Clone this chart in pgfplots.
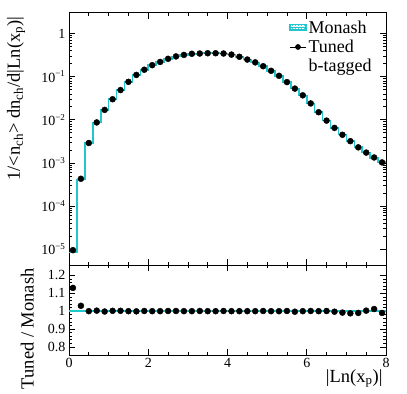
\documentclass[border=0pt]{standalone}
\usepackage{fontspec}
\setmainfont{Liberation Serif}
\usepackage{pgfplots}
\pgfplotsset{compat=1.18}
\usepackage{pgfplotstable}
\usetikzlibrary{patterns}
\definecolor{monash}{RGB}{32,200,205}

% Tuned (b-tagged): bin centre, value
\pgfplotstableread{
x y
0.1 9.5e-6
0.3 4.3e-4
0.5 2.9e-3
0.7 8.7e-3
0.9 1.7e-2
1.1 3.0e-2
1.3 4.9e-2
1.5 7.6e-2
1.7 0.110
1.9 0.145
2.1 0.185
2.3 0.220
2.5 0.260
2.7 0.295
2.9 0.320
3.1 0.340
3.3 0.345
3.5 0.350
3.7 0.350
3.9 0.345
4.1 0.325
4.3 0.290
4.5 0.250
4.7 0.215
4.9 0.175
5.1 0.137
5.3 0.105
5.5 0.075
5.7 0.053
5.9 0.037
6.1 0.024
6.3 0.015
6.5 0.0096
6.7 0.0065
6.9 0.0045
7.1 0.0032
7.3 0.0023
7.5 0.00174
7.7 0.00134
7.9 0.00103
}\tuned

% Monash: bin low edge, value (last row closes the step)
\pgfplotstableread{
x y
0.0 8.4e-6
0.2 4.17e-4
0.4 2.9e-3
0.6 8.7e-3
0.8 1.7e-2
1.0 3.0e-2
1.2 4.9e-2
1.4 7.6e-2
1.6 0.110
1.8 0.145
2.0 0.185
2.2 0.220
2.4 0.260
2.6 0.295
2.8 0.320
3.0 0.340
3.2 0.345
3.4 0.350
3.6 0.350
3.8 0.345
4.0 0.325
4.2 0.290
4.4 0.250
4.6 0.215
4.8 0.175
5.0 0.137
5.2 0.105
5.4 0.075
5.6 0.0532
5.8 0.037
6.0 0.024
6.2 0.015
6.4 0.0096
6.6 0.0065
6.8 0.00454
7.0 0.00324
7.2 0.00232
7.4 0.00173
7.6 0.00132
7.8 0.00104
8.0 0.00104
}\monash

% Ratio Tuned / Monash
\pgfplotstableread{
x r
0.1 1.130
0.3 1.030
0.5 1.000
0.7 1.003
0.9 0.998
1.1 1.002
1.3 1.002
1.5 1.000
1.7 0.999
1.9 1.001
2.1 1.000
2.3 1.000
2.5 1.001
2.7 1.001
2.9 1.000
3.1 1.000
3.3 1.001
3.5 1.000
3.7 1.000
3.9 1.001
4.1 1.000
4.3 1.000
4.5 1.000
4.7 1.000
4.9 1.001
5.1 1.000
5.3 1.000
5.5 1.001
5.7 0.997
5.9 1.000
6.1 1.001
6.3 1.000
6.5 1.001
6.7 0.997
6.9 0.992
7.1 0.988
7.3 0.990
7.5 1.003
7.7 1.012
7.9 0.990
}\ratio

\newcommand{\ex}[1]{\textsuperscript{\fontsize{9}{9}\selectfont #1}}

\pgfplotsset{
    rootax/.style={
            scale only axis,
            width=317pt,
            xmin=0, xmax=8,
            xtick={0,2,4,6,8},
            minor x tick num=3,
            tick align=inside,
            tick pos=both,
            major tick length=6pt,
            minor tick length=3pt,
            axis line style={line width=1pt},
            every tick/.style={black, line width=0.7pt},
            tick label style={font=\fontsize{14}{16}\selectfont},
            label style={font=\fontsize{18.5}{21}\selectfont},
            /pgf/number format/assume math mode=true,
        },
}

\begin{document}
\begin{tikzpicture}
    \begin{axis}[
            rootax,
            name=top,
            height=252pt,
            ymode=log,
            ymin=4.3e-6, ymax=3,
            xticklabels={},
            ytick={1e-5,1e-4,1e-3,1e-2,1e-1,1},
            yticklabels={10\ex{−5},10\ex{−4},10\ex{−3},10\ex{−2},10\ex{−1},1},
            ylabel={1/<n\textsubscript{ch}> dn\textsubscript{ch}/d|Ln(x\textsubscript{p})|},
            ylabel style={at={(rel axis cs:-0.127,1)}, anchor=south east},
            legend style={at={(rel axis cs:0.685,0.985)}, anchor=north west,
                    draw=none, fill=none, font=\fontsize{18}{19}\selectfont,
                    row sep=1pt},
            legend cell align=left,
        ]
        \addplot[const plot mark left, monash, line width=1.6pt,
            legend image code/.code={
                    \fill[pattern=crosshatch dots, pattern color=monash] (0cm,-0.2em) rectangle (0.55cm,0.35em);
                    \draw[monash, line width=1.4pt] (0cm,0.07em) -- (0.55cm,0.07em);
                }] table[x=x, y=y] {\monash};
        \addlegendentry{Monash}
        \addplot[only marks, mark=*, mark size=3pt, black,
            legend image code/.code={
                    \draw[black, line width=0.8pt] (0cm,0cm) -- (0.55cm,0cm);
                    \fill[black] (0.275cm,0cm) circle (2.6pt);
                }] table[x=x, y=y] {\tuned};
        \addlegendentry{Tuned}
        \addlegendimage{empty legend}
        \addlegendentry{b-tagged}
    \end{axis}

    \begin{axis}[
            rootax,
            name=bot,
            at={([yshift=-5pt]top.south west)}, anchor=north west,
            height=90pt,
            ymin=0.755, ymax=1.258,
            ytick={0.8,0.9,1,1.1,1.2},
            yticklabels={0.8,0.9,1,1.1,1.2},
            minor y tick num=4,
            xticklabels={0,2,4,6,8},
            xlabel={|Ln(x\textsubscript{p})|},
            xlabel style={at={(rel axis cs:1,0)}, anchor=north east, yshift=-11pt},
            ylabel={Tuned / Monash},
            ylabel style={at={(rel axis cs:-0.1,1)}, anchor=south east},
        ]
        \addplot[monash, line width=1.6pt] coordinates {(0,1) (8,1)};
        \addplot[only marks, mark=*, mark size=3pt, black] table[x=x, y=r] {\ratio};
    \end{axis}

    \pgfresetboundingbox
    \path[use as bounding box] ([shift={(-69pt,-38pt)}]bot.south west) rectangle ([shift={(21pt,13pt)}]top.north east);
\end{tikzpicture}
\end{document}
